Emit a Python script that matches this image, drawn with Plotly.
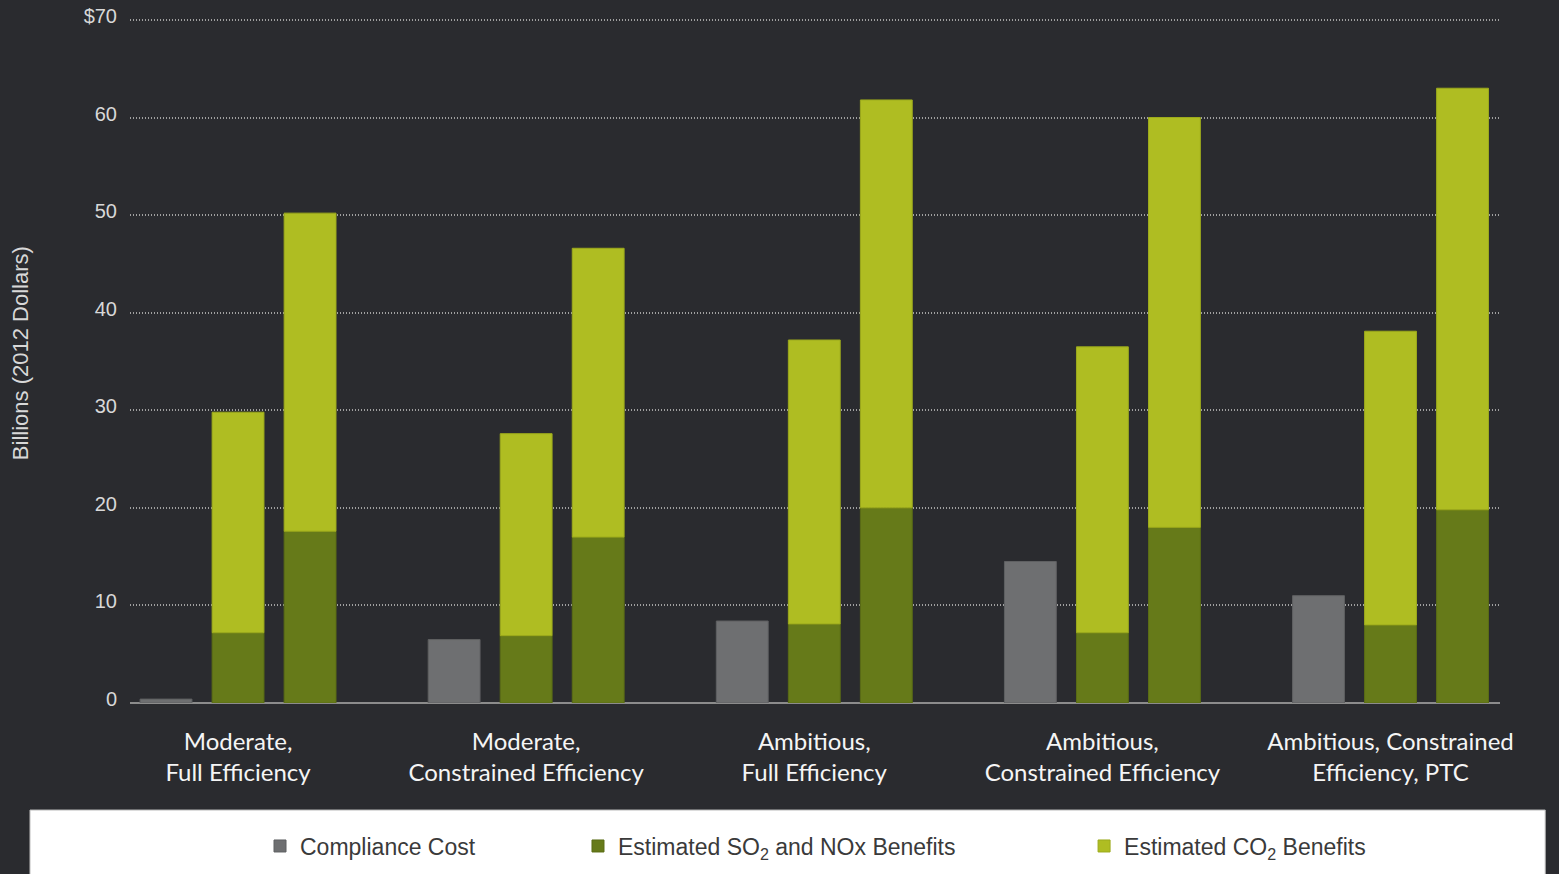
import plotly.graph_objects as go

categories = [
    "Moderate,<br>Full Efficiency",
    "Moderate,<br>Constrained Efficiency",
    "Ambitious,<br>Full Efficiency",
    "Ambitious,<br>Constrained Efficiency",
    "Ambitious, Constrained<br>Efficiency, PTC",
]
compliance_cost = [0.4, 6.5, 8.4, 14.5, 11.0]
so2_nox_low = [7.2, 6.9, 8.1, 7.2, 8.0]
co2_low = [22.6, 20.7, 29.1, 29.3, 30.1]
so2_nox_high = [17.6, 17.0, 20.0, 18.0, 19.8]
co2_high = [32.6, 29.6, 41.8, 42.0, 43.2]

y_ticks = [0, 10, 20, 30, 40, 50, 60, 70]
y_tick_labels = ["0", "10", "20", "30", "40", "50", "60", "$70"]

GRAY = "#6e6f71"
DKGREEN = "#667a19"
LTGREEN = "#afbd22"

fig = go.Figure()
fig.add_bar(x=categories, y=compliance_cost, name="Compliance Cost",
            marker=dict(color=GRAY, line=dict(color="#5f6062", width=1)),
            offsetgroup="a", legend="legend")
fig.add_bar(x=categories, y=so2_nox_low, name="Estimated SO<sub>2</sub> and NOx Benefits",
            marker=dict(color=DKGREEN, line=dict(color="#5a6c15", width=1)),
            offsetgroup="b", legendgroup="so2", legend="legend2")
fig.add_bar(x=categories, y=co2_low, base=so2_nox_low, name="Estimated CO<sub>2</sub> Benefits",
            marker=dict(color=LTGREEN, line=dict(color="#9caa1c", width=1)),
            offsetgroup="b", legendgroup="co2", legend="legend3")
fig.add_bar(x=categories, y=so2_nox_high, name="Estimated SO<sub>2</sub> and NOx Benefits",
            marker=dict(color=DKGREEN, line=dict(color="#5a6c15", width=1)),
            offsetgroup="c", legendgroup="so2", showlegend=False)
fig.add_bar(x=categories, y=co2_high, base=so2_nox_high, name="Estimated CO<sub>2</sub> Benefits",
            marker=dict(color=LTGREEN, line=dict(color="#9caa1c", width=1)),
            offsetgroup="c", legendgroup="co2", showlegend=False)

legend_common = dict(orientation="h", yanchor="middle", y=-0.2085, xanchor="left",
                     bgcolor="rgba(0,0,0,0)",
                     font=dict(family="Liberation Sans, Arial, sans-serif", size=23, color="#3a3a3a"))

fig.update_layout(
    width=1559, height=874,
    margin=dict(l=130, r=59, t=17, b=171, autoexpand=False),
    paper_bgcolor="#2a2b2f",
    plot_bgcolor="rgba(0,0,0,0)",
    barmode="group",
    bargap=0.25,
    bargroupgap=0.28,
    legend=dict(x=0.0949, **legend_common),
    legend2=dict(x=0.327, **legend_common),
    legend3=dict(x=0.6964, **legend_common),
    shapes=[dict(type="rect", xref="paper", yref="paper",
                 x0=-0.073, x1=1.033, y0=-0.27, y1=-0.156,
                 fillcolor="white", line=dict(color="#bbbbbb", width=1), layer="below")],
    annotations=[dict(text="Billions (2012 Dollars)", xref="paper", yref="paper",
                      x=-0.0803, y=0.51, xanchor="center", yanchor="middle",
                      textangle=-90, showarrow=False,
                      font=dict(family="Liberation Sans, Arial, sans-serif", size=22, color="#d8d8d8"))],
)
fig.update_xaxes(
    range=[-0.375, 4.38],
    automargin=False,
    showgrid=False,
    showline=False,
    ticks="outside", ticklen=17, tickcolor="rgba(0,0,0,0)",
    tickfont=dict(family="Lato, Open Sans, sans-serif", size=24, color="#f5f5f5"),
)
fig.update_yaxes(
    range=[0, 70.3],
    automargin=False,
    tickvals=y_ticks, ticktext=y_tick_labels,
    showgrid=True, gridcolor="#a0a0a0", griddash="1px,2px", gridwidth=1.5,
    zeroline=True, zerolinecolor="#8c8c8c", zerolinewidth=2,
    ticks="outside", ticklen=8, tickcolor="rgba(0,0,0,0)",
    ticklabelshift=-4,
    tickfont=dict(family="Liberation Sans, Arial, sans-serif", size=20, color="#d8d8d8"),
)

fig.write_html("out.html", config={"displayModeBar": False},
               post_script="document.body.style.margin='0';")
